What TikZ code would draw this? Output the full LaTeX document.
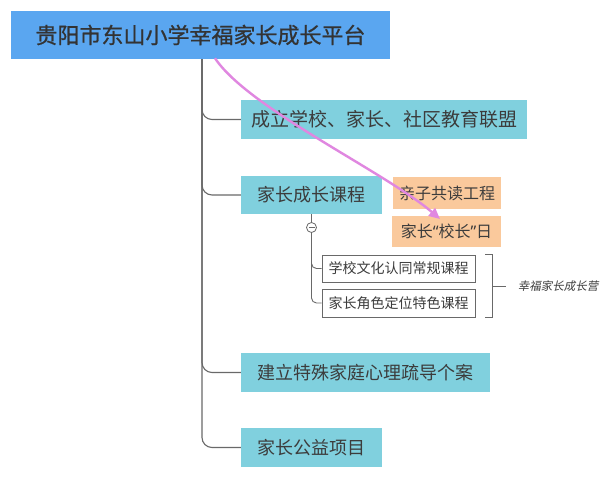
\documentclass[tikz,border=0pt]{standalone}
\usepackage{fontspec}
\newfontfamily\cjk{Noto Sans CJK SC}
\newfontfamily\cjkb[FakeBold=0.8]{Noto Sans CJK SC}
\newfontfamily\cjkit[FakeSlant=0.2]{Noto Sans CJK SC}
\newfontfamily\qtfont{Noto Sans}
\usetikzlibrary{arrows.meta}
\definecolor{titleblue}{RGB}{90,166,240}
\definecolor{teal1}{RGB}{128,208,222}
\definecolor{orange1}{RGB}{250,201,156}
\definecolor{conngray}{RGB}{105,105,105}
\definecolor{pink1}{RGB}{224,135,224}
\definecolor{txt}{RGB}{60,60,60}
\tikzset{
  titlebox/.style={fill=titleblue, inner sep=0pt, minimum width=379pt, minimum height=48pt, text=black!80, font=\cjkb\fontsize{22}{26}\selectfont},
  tealbox/.style={fill=teal1, inner sep=0pt, minimum height=39pt, text=txt, font=\cjk\fontsize{18}{22}\selectfont},
  orangebox/.style={fill=orange1, inner sep=0pt, minimum width=108pt, minimum height=32pt, text=txt, font=\cjk\fontsize{16}{20}\selectfont},
  whitebox/.style={draw=conngray, line width=0.8pt, fill=white, inner sep=0pt, minimum width=153pt, minimum height=27pt, text=txt, font=\cjk\fontsize{14}{17}\selectfont},
  conn/.style={draw=conngray, line width=1.1pt},
  collapse/.style={circle, draw=conngray, line width=0.8pt, fill=white, minimum size=10pt, inner sep=0pt},
  pinkarrow/.style={draw=pink1, line width=2.4pt, -{Triangle[length=11pt,width=10pt]}},
  lbl/.style={text=txt, font=\cjkit\fontsize{11.5}{14}\selectfont, inner sep=0pt}
}
\begin{document}
\begin{tikzpicture}[x=1pt,y=-1pt]
\useasboundingbox[fill=white] (0,0) rectangle (611,477);
\node[titlebox] (title) at (200.5,35) {贵阳市东山小学幸福家长成长平台};
\node[tealbox, minimum width=286pt, font=\cjk\fontsize{19}{22}\selectfont] (b1) at (384,119.5) {成立学校、家长、社区教育联盟};
\node[tealbox, minimum width=141pt, minimum height=38pt] (b2) at (311.5,195) {家长成长课程};
\node[orangebox] (o1) at (447,193) {亲子共读工程};
\node[orangebox, minimum width=109pt, minimum height=31pt] (o2) at (446.5,231.5) {家长{\qtfont“}校长{\qtfont”}日};
\node[collapse] (c1) at (311.5,227.5) {};
\draw[conngray, line width=0.8pt] ([xshift=-3pt]c1.center) -- ([xshift=3pt]c1.center);
\node[whitebox] (w1) at (398.5,268.5) {学校文化认同常规课程};
\node[whitebox, minimum height=28pt] (w2) at (398.5,303) {家长角色定位特色课程};
\node[tealbox, minimum width=249pt] (b3) at (365.5,372.5) {建立特殊家庭心理疏导个案};
\node[tealbox, minimum width=141pt] (b4) at (311.5,447.5) {家长公益项目};
\node[lbl] (lab) at (558,286) {幸福家长成长营};

\coordinate (trunk) at (202,59);
\foreach \b in {b1,b2,b3,b4}{
  \draw[conn, rounded corners=10pt] (trunk) |- (\b.west);
}
\draw[conn, line width=0.9pt] (b2.south) -- (c1.north);
\draw[conn, line width=0.9pt, rounded corners=5pt] (c1.south) |- (w1.west);
\draw[conn, line width=0.9pt, rounded corners=5pt] (c1.south) |- (w2.west);

\coordinate (brt) at (485,254);
\coordinate (brb) at (485,317);
\coordinate (brm) at (492,286);
\draw[conn, line width=0.9pt] (brt) -- ++(7,0) -- ([xshift=7pt]brb) -- (brb);
\draw[conn, line width=0.9pt] (brm) -- ++(14,0);

\coordinate (ps) at ([xshift=14.5pt,yshift=1pt]title.south);
\coordinate (pe) at (440,219);
\draw[pinkarrow] (ps) .. controls (248,108) and (385,172) .. (pe);
\end{tikzpicture}
\end{document}
